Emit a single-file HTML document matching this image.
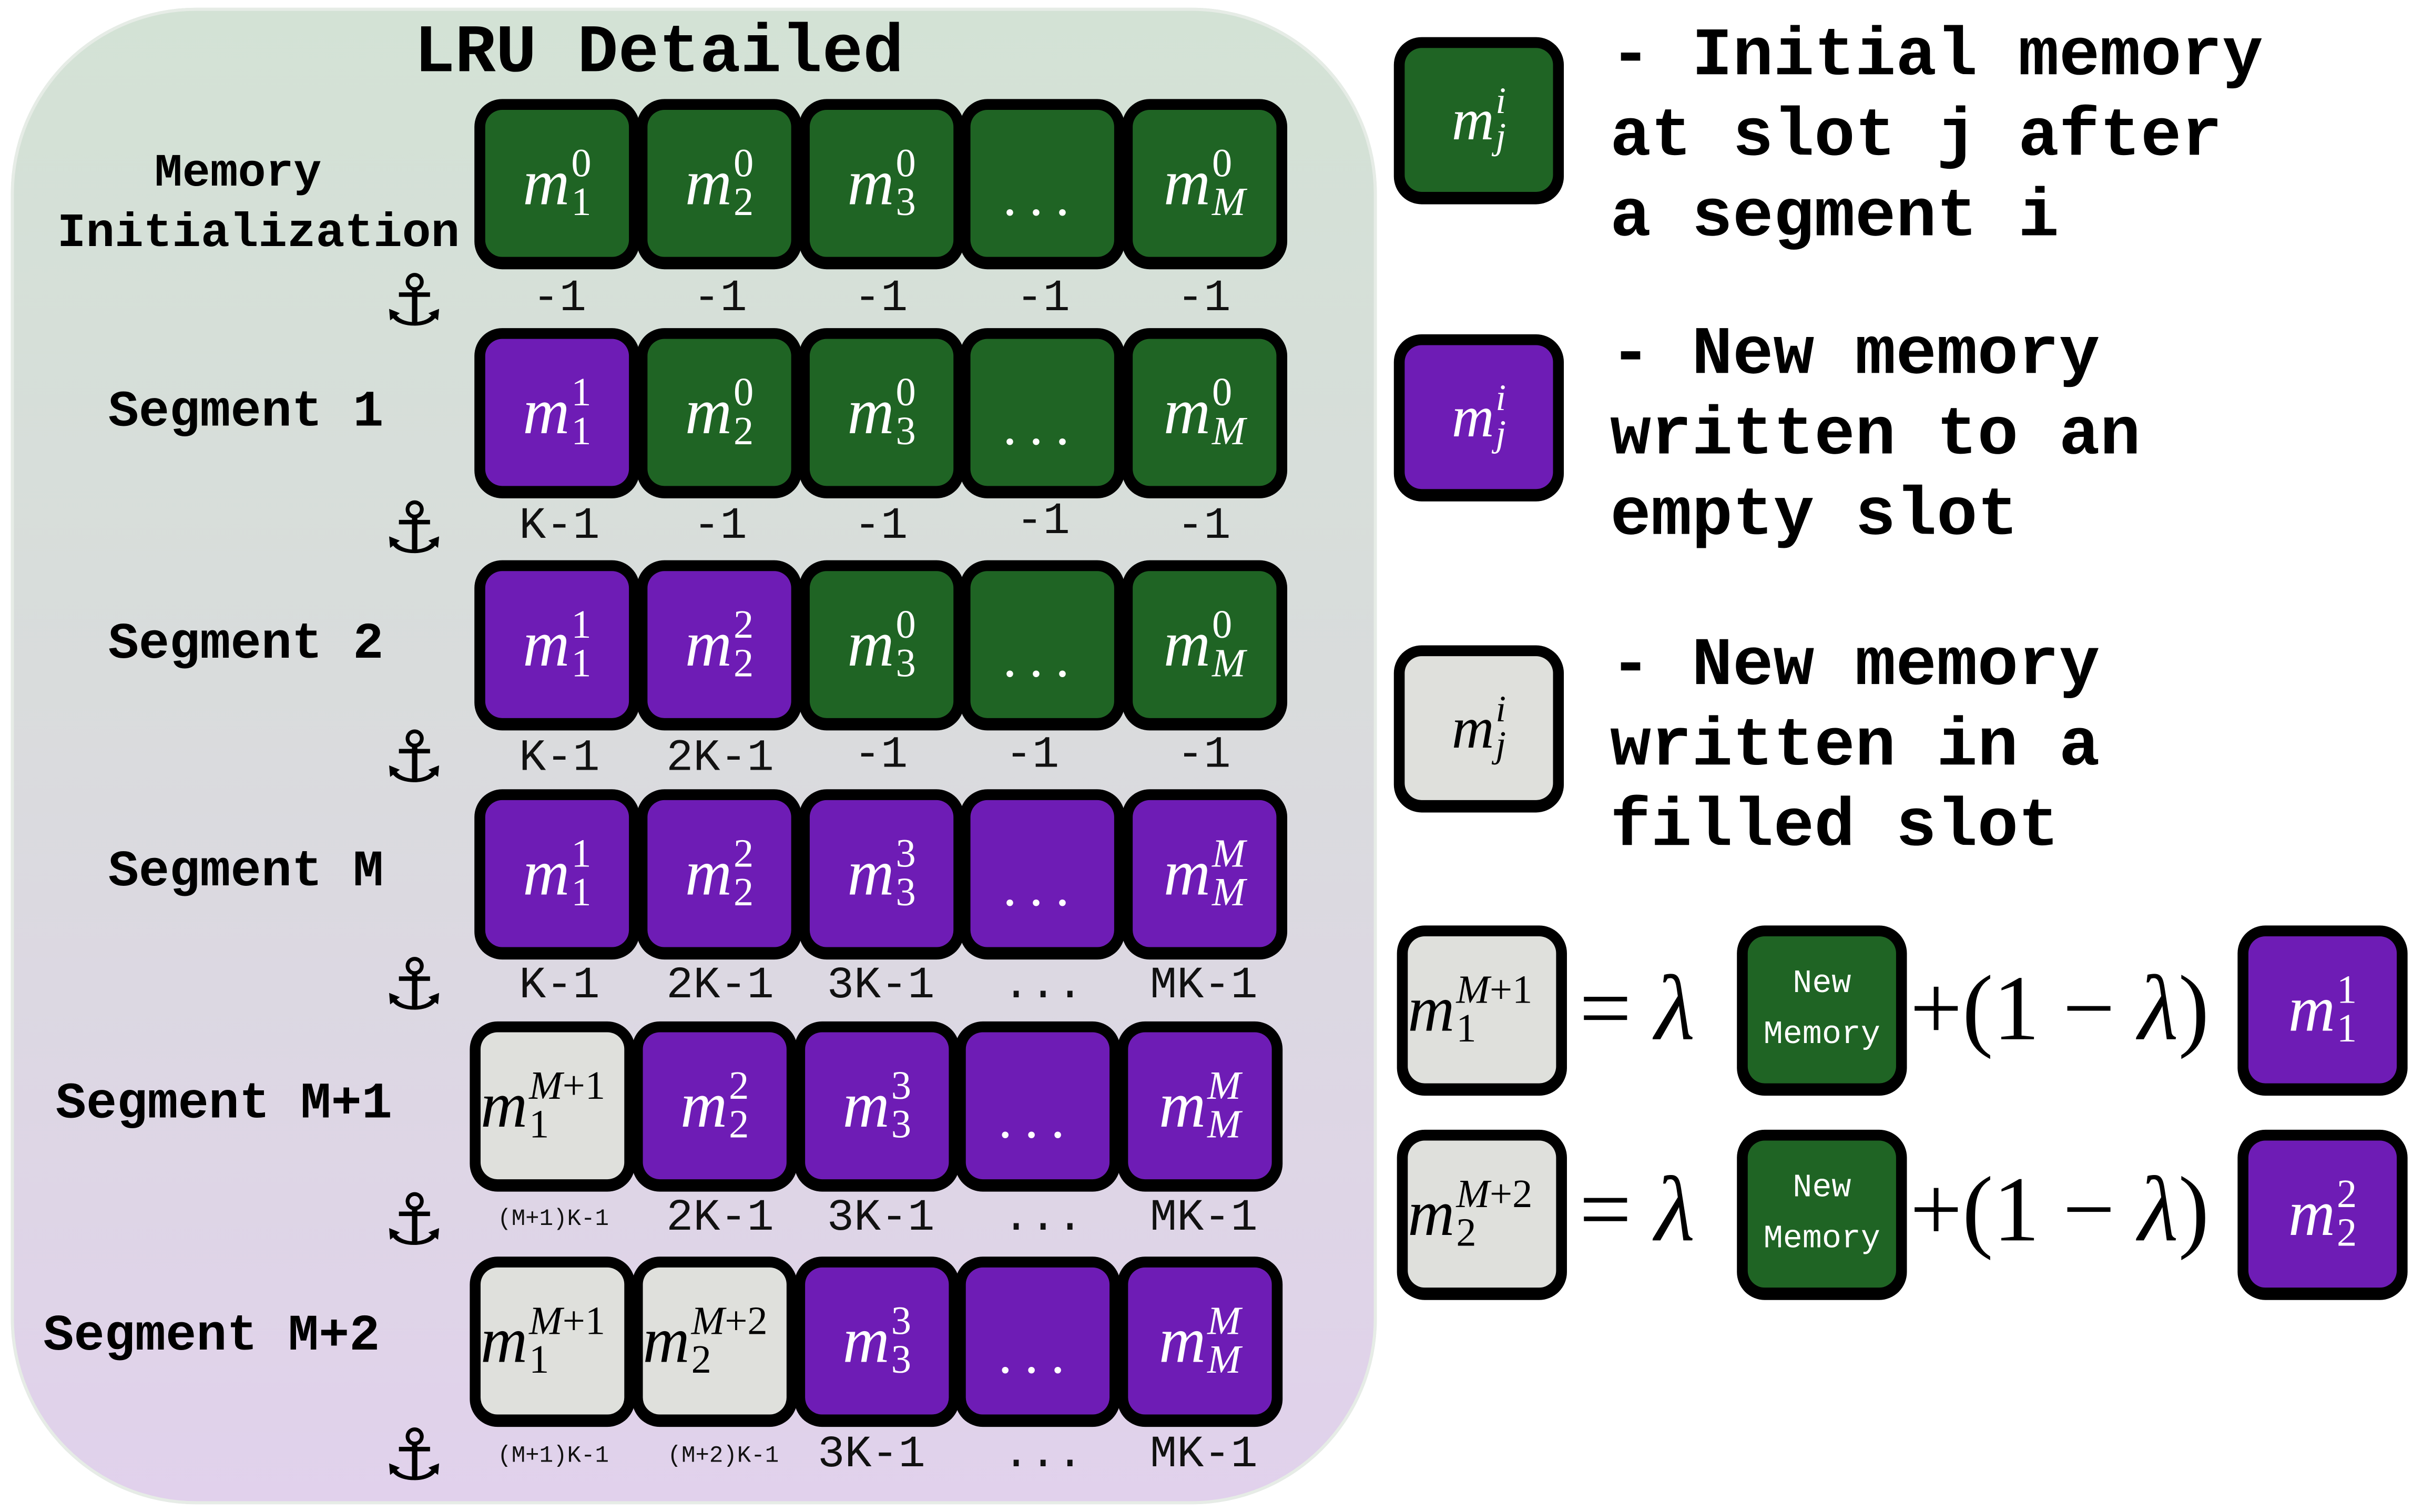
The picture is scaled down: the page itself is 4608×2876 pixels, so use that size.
<!DOCTYPE html>
<html><head><meta charset="utf-8">
<style>
html,body{margin:0;padding:0;background:#fff;}
body{width:4608px;height:2876px;overflow:hidden;position:relative;}
#w{position:absolute;left:0;top:0;width:1568px;height:977px;transform:scale(2.9388,2.9437);transform-origin:0 0;}
.panel{position:absolute;left:7px;top:5px;width:884px;height:967px;border-radius:120px;background:linear-gradient(180deg,#d3e2d5 0%,#d9dcdc 45%,#e1d1ec 100%);box-shadow:0 0 0 2px #e6ece6 inset;}
.t{position:absolute;font-family:"Liberation Mono",monospace;font-weight:bold;color:#000;white-space:nowrap;}
.box{position:absolute;width:107px;height:110px;background:#000;border-radius:18px;}
.box .in{position:absolute;left:7px;top:7px;right:7px;bottom:8px;border-radius:11px;display:flex;align-items:center;justify-content:center;}
.g{background:#1f6424;color:#fff}.p{background:#6e1cb5;color:#fff}.w{background:#dfe0dc;color:#000}
.m{font-family:"Liberation Serif",serif;font-style:italic;font-size:42px;display:inline-flex;align-items:center;line-height:1}
.ss{display:inline-flex;flex-direction:column;font-style:normal;font-size:26px;line-height:0.95;margin-left:1px;}
.ss i{font-style:italic}
.dots{font-family:"Liberation Serif",serif;font-size:36px;letter-spacing:8px;margin-top:16px}
.lab{position:absolute;font-family:"Liberation Mono",monospace;font-size:29px;color:#111;transform:translate(-50%,-50%);white-space:nowrap;}
.sm{font-size:15px}
.anc{position:absolute;font-family:"DejaVu Sans",sans-serif;font-size:46px;transform:translate(-50%,-50%);color:#000}
.leg{position:absolute;font-family:"Liberation Mono",monospace;font-weight:bold;font-size:44px;line-height:52px;white-space:nowrap}
.eq{position:absolute;font-family:"Liberation Serif",serif;font-size:60px;white-space:nowrap;transform:translateY(-50%)}
.nm{font-family:"Liberation Mono",monospace;font-size:21px;text-align:center;line-height:33px;color:#fff}
</style></head><body><div id="w">
<div class="panel"></div>
<div class="t" style="left:268px;top:10px;font-size:44px">LRU Detailed</div>
<div class="t" style="left:100px;top:96px;font-size:30px">Memory</div>
<div class="t" style="left:37px;top:134px;font-size:31px">Initialization</div>
<div class="t" style="left:70px;top:248px;font-size:33px">Segment 1</div>
<div class="t" style="left:70px;top:398px;font-size:33px">Segment 2</div>
<div class="t" style="left:70px;top:545px;font-size:33px">Segment M</div>
<div class="t" style="left:36px;top:695px;font-size:33px">Segment M+1</div>
<div class="t" style="left:28px;top:845px;font-size:33px">Segment M+2</div>

<!-- row 0 -->
<div class="box" style="left:307px;top:64px"><div class="in g"><span class="m">m<span class="ss"><span>0</span><span>1</span></span></span></div></div>
<div class="box" style="left:412px;top:64px"><div class="in g"><span class="m">m<span class="ss"><span>0</span><span>2</span></span></span></div></div>
<div class="box" style="left:517px;top:64px"><div class="in g"><span class="m">m<span class="ss"><span>0</span><span>3</span></span></span></div></div>
<div class="box" style="left:621px;top:64px"><div class="in g"><span class="dots">...</span></div></div>
<div class="box" style="left:726px;top:64px"><div class="in g"><span class="m">m<span class="ss"><span>0</span><i>M</i></span></span></div></div>
<!-- row 1 -->
<div class="box" style="left:307px;top:212px"><div class="in p"><span class="m">m<span class="ss"><span>1</span><span>1</span></span></span></div></div>
<div class="box" style="left:412px;top:212px"><div class="in g"><span class="m">m<span class="ss"><span>0</span><span>2</span></span></span></div></div>
<div class="box" style="left:517px;top:212px"><div class="in g"><span class="m">m<span class="ss"><span>0</span><span>3</span></span></span></div></div>
<div class="box" style="left:621px;top:212px"><div class="in g"><span class="dots">...</span></div></div>
<div class="box" style="left:726px;top:212px"><div class="in g"><span class="m">m<span class="ss"><span>0</span><i>M</i></span></span></div></div>
<!-- row 2 -->
<div class="box" style="left:307px;top:362px"><div class="in p"><span class="m">m<span class="ss"><span>1</span><span>1</span></span></span></div></div>
<div class="box" style="left:412px;top:362px"><div class="in p"><span class="m">m<span class="ss"><span>2</span><span>2</span></span></span></div></div>
<div class="box" style="left:517px;top:362px"><div class="in g"><span class="m">m<span class="ss"><span>0</span><span>3</span></span></span></div></div>
<div class="box" style="left:621px;top:362px"><div class="in g"><span class="dots">...</span></div></div>
<div class="box" style="left:726px;top:362px"><div class="in g"><span class="m">m<span class="ss"><span>0</span><i>M</i></span></span></div></div>
<!-- row 3 -->
<div class="box" style="left:307px;top:510px"><div class="in p"><span class="m">m<span class="ss"><span>1</span><span>1</span></span></span></div></div>
<div class="box" style="left:412px;top:510px"><div class="in p"><span class="m">m<span class="ss"><span>2</span><span>2</span></span></span></div></div>
<div class="box" style="left:517px;top:510px"><div class="in p"><span class="m">m<span class="ss"><span>3</span><span>3</span></span></span></div></div>
<div class="box" style="left:621px;top:510px"><div class="in p"><span class="dots">...</span></div></div>
<div class="box" style="left:726px;top:510px"><div class="in p"><span class="m">m<span class="ss"><i>M</i><i>M</i></span></span></div></div>
<!-- row 4 -->
<div class="box" style="left:304px;top:660px"><div class="in w" style="justify-content:flex-start"><span class="m">m<span class="ss"><i>M<span style="font-style:normal">+1</span></i><span>1</span></span></span></div></div>
<div class="box" style="left:409px;top:660px"><div class="in p"><span class="m">m<span class="ss"><span>2</span><span>2</span></span></span></div></div>
<div class="box" style="left:514px;top:660px"><div class="in p"><span class="m">m<span class="ss"><span>3</span><span>3</span></span></span></div></div>
<div class="box" style="left:618px;top:660px"><div class="in p"><span class="dots">...</span></div></div>
<div class="box" style="left:723px;top:660px"><div class="in p"><span class="m">m<span class="ss"><i>M</i><i>M</i></span></span></div></div>
<!-- row 5 -->
<div class="box" style="left:304px;top:812px"><div class="in w" style="justify-content:flex-start"><span class="m">m<span class="ss"><i>M<span style="font-style:normal">+1</span></i><span>1</span></span></span></div></div>
<div class="box" style="left:409px;top:812px"><div class="in w" style="justify-content:flex-start"><span class="m">m<span class="ss"><i>M<span style="font-style:normal">+2</span></i><span>2</span></span></span></div></div>
<div class="box" style="left:514px;top:812px"><div class="in p"><span class="m">m<span class="ss"><span>3</span><span>3</span></span></span></div></div>
<div class="box" style="left:618px;top:812px"><div class="in p"><span class="dots">...</span></div></div>
<div class="box" style="left:723px;top:812px"><div class="in p"><span class="m">m<span class="ss"><i>M</i><i>M</i></span></span></div></div>

<!-- anchors -->
<div class="anc" style="left:268px;top:194px">⚓</div>
<div class="anc" style="left:268px;top:341px">⚓</div>
<div class="anc" style="left:268px;top:489px">⚓</div>
<div class="anc" style="left:268px;top:636px">⚓</div>
<div class="anc" style="left:268px;top:788px">⚓</div>
<div class="anc" style="left:268px;top:940px">⚓</div>

<!-- labels -->
<div class="lab" style="left:362px;top:193px">-1</div><div class="lab" style="left:466px;top:193px">-1</div><div class="lab" style="left:570px;top:193px">-1</div><div class="lab" style="left:675px;top:193px">-1</div><div class="lab" style="left:779px;top:193px">-1</div>
<div class="lab" style="left:362px;top:340px">K-1</div><div class="lab" style="left:466px;top:340px">-1</div><div class="lab" style="left:570px;top:340px">-1</div><div class="lab" style="left:675px;top:337px">-1</div><div class="lab" style="left:779px;top:340px">-1</div>
<div class="lab" style="left:362px;top:490px">K-1</div><div class="lab" style="left:466px;top:490px">2K-1</div><div class="lab" style="left:570px;top:488px">-1</div><div class="lab" style="left:668px;top:488px">-1</div><div class="lab" style="left:779px;top:488px">-1</div>
<div class="lab" style="left:362px;top:637px">K-1</div><div class="lab" style="left:466px;top:637px">2K-1</div><div class="lab" style="left:570px;top:637px">3K-1</div><div class="lab" style="left:675px;top:637px">...</div><div class="lab" style="left:779px;top:637px">MK-1</div>
<div class="lab sm" style="left:358px;top:788px">(M+1)K-1</div><div class="lab" style="left:466px;top:787px">2K-1</div><div class="lab" style="left:570px;top:787px">3K-1</div><div class="lab" style="left:675px;top:787px">...</div><div class="lab" style="left:779px;top:787px">MK-1</div>
<div class="lab sm" style="left:358px;top:941px">(M+1)K-1</div><div class="lab sm" style="left:468px;top:941px">(M+2)K-1</div><div class="lab" style="left:564px;top:940px">3K-1</div><div class="lab" style="left:675px;top:940px">...</div><div class="lab" style="left:779px;top:940px">MK-1</div>

<!-- legend -->
<div class="box" style="left:902px;top:24px;width:110px;height:108px"><div class="in g"><span class="m" style="font-size:38px">m<span class="ss" style="font-size:24px"><i>i</i><i>j</i></span></span></div></div>
<div class="box" style="left:902px;top:216px;width:110px;height:108px"><div class="in p"><span class="m" style="font-size:38px">m<span class="ss" style="font-size:24px"><i>i</i><i>j</i></span></span></div></div>
<div class="box" style="left:902px;top:417px;width:110px;height:108px"><div class="in w"><span class="m" style="font-size:38px">m<span class="ss" style="font-size:24px"><i>i</i><i>j</i></span></span></div></div>
<div class="leg" style="left:1042px;top:11px">- Initial memory<br>at slot j after<br>a segment i</div>
<div class="leg" style="left:1042px;top:204px">- New memory<br>written to an<br>empty slot</div>
<div class="leg" style="left:1042px;top:405px">- New memory<br>written in a<br>filled slot</div>

<!-- equations -->
<div class="box" style="left:904px;top:598px;width:110px;height:110px"><div class="in w" style="justify-content:flex-start"><span class="m">m<span class="ss"><i>M<span style="font-style:normal">+1</span></i><span>1</span></span></span></div></div>
<div class="box" style="left:1124px;top:598px;width:110px;height:110px"><div class="in g nm">New<br>Memory</div></div>
<div class="box" style="left:1448px;top:598px;width:110px;height:110px"><div class="in p"><span class="m">m<span class="ss"><span>1</span><span>1</span></span></span></div></div>
<div class="eq" style="left:1022px;top:652px">= <i>λ</i></div>
<div class="eq" style="left:1236px;top:652px">+(1 − <i>λ</i>)</div>

<div class="box" style="left:904px;top:730px;width:110px;height:110px"><div class="in w" style="justify-content:flex-start"><span class="m">m<span class="ss"><i>M<span style="font-style:normal">+2</span></i><span>2</span></span></span></div></div>
<div class="box" style="left:1124px;top:730px;width:110px;height:110px"><div class="in g nm">New<br>Memory</div></div>
<div class="box" style="left:1448px;top:730px;width:110px;height:110px"><div class="in p"><span class="m">m<span class="ss"><span>2</span><span>2</span></span></span></div></div>
<div class="eq" style="left:1022px;top:782px">= <i>λ</i></div>
<div class="eq" style="left:1236px;top:782px">+(1 − <i>λ</i>)</div>
</div></body></html>
